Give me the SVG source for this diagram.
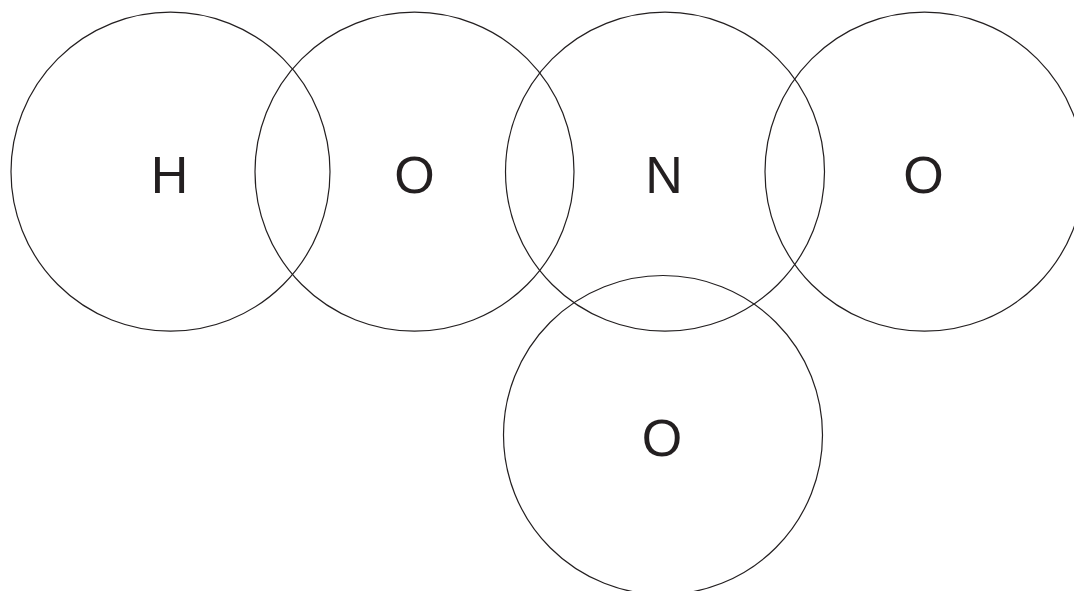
<svg xmlns="http://www.w3.org/2000/svg" width="1074" height="591" viewBox="0 0 1074 591">
<style>
.c{fill:none;stroke:#231f20;stroke-width:1.2}
.t{font-family:"Liberation Sans",Arial,sans-serif;font-size:52px;fill:#231f20;text-anchor:middle}
</style>
<rect width="1074" height="591" fill="#fff"/>
<g id="atom-H"><circle class="c" cx="170.5" cy="171.7" r="159.5"/><text class="t" x="169.5" y="193">H</text></g>
<g id="atom-O1"><circle class="c" cx="414.5" cy="171.7" r="159.5"/><text class="t" x="414.5" y="193">O</text></g>
<g id="atom-N"><circle class="c" cx="665" cy="171.7" r="159.5"/><text class="t" x="664" y="193">N</text></g>
<g id="atom-O2"><circle class="c" cx="924.5" cy="171.7" r="159.5"/><text class="t" x="923.5" y="193">O</text></g>
<g id="atom-O3"><circle class="c" cx="663" cy="435" r="159.5"/><text class="t" x="662" y="456">O</text></g>
<g id="connectors"></g>
</svg>
